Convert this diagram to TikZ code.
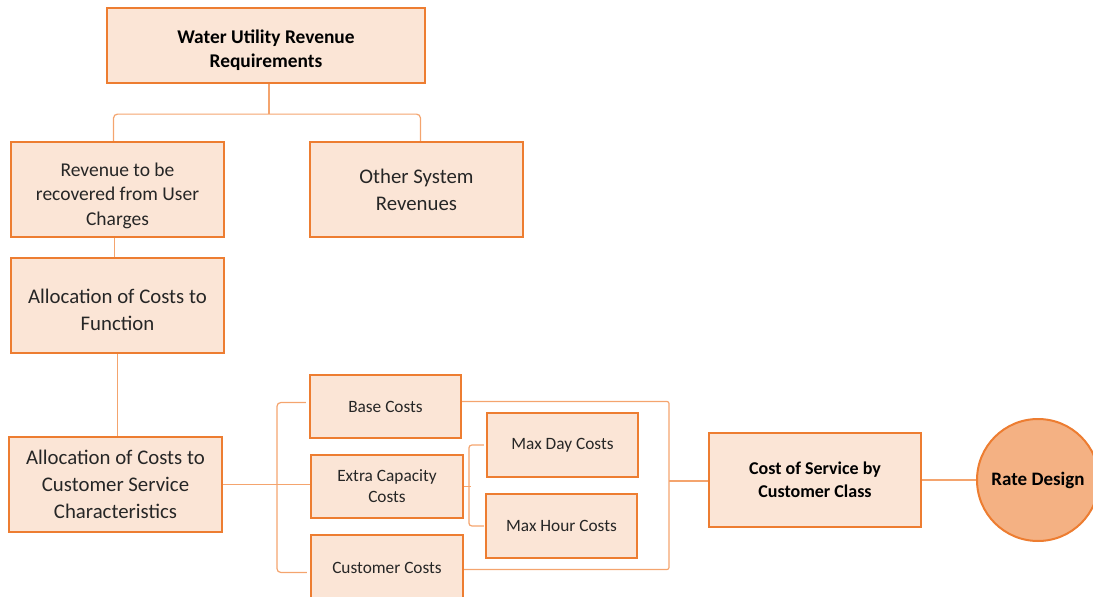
\documentclass[tikz,border=0pt]{standalone}
\usepackage{fontspec}
\setmainfont{Carlito}
\usepackage{tikz}
\definecolor{boxline}{HTML}{ED7D31}
\definecolor{boxfill}{HTML}{FBE5D6}
\definecolor{linkline}{HTML}{F4A46E}
\definecolor{ratefill}{HTML}{F4B183}
\definecolor{txt}{HTML}{262626}
\newcommand{\drop}[1]{\rule{0pt}{#1}}

\begin{document}
\begin{tikzpicture}
    [
        x=1pt, y=-1pt,
        box/.style={rectangle, draw=boxline, line width=2.2pt, fill=boxfill, align=center, inner sep=0pt, text=txt, minimum width=213pt, minimum height=95pt, font=\fontsize{20.8}{27}\selectfont},
        smallbox/.style={box, minimum width=151pt, minimum height=63pt, font=\fontsize{17.3}{21}\selectfont},
        boldbox/.style={box, text=black, font=\fontsize{18}{23}\selectfont\bfseries},
        link/.style={draw=linkline, line width=1.2pt},
    ]

\useasboundingbox (0,0) rectangle (1093,597);
\clip (0,0) rectangle (1093,597);

% revenue side
\node[boldbox, minimum width=318pt, minimum height=75pt, font=\fontsize{19.4}{24}\selectfont\bfseries] (top) at (266,45.5) {\drop{24pt}Water Utility Revenue\\Requirements};
\node[box, font=\fontsize{19.5}{24.5}\selectfont] (rev) at (117.5,189.5) {\drop{25.5pt}Revenue to be\\recovered from User\\Charges};
\node[box] (other) at (416.5,189.5) {Other System\\Revenues};
\node[box] (allocF) at (117.5,305.5) {\drop{22.5pt}Allocation of Costs to\\Function};
\node[box] (allocC) at (115.5,484.5) {Allocation of Costs to\\Customer Service\\Characteristics};

% cost components
\node[smallbox] (base) at (385.5,406.5) {Base Costs};
\node[smallbox, minimum width=152pt] (extra) at (387,486.5) {Extra Capacity\\Costs};
\node[smallbox, minimum width=152pt, minimum height=65pt] (cust) at (387,567.5) {Customer Costs};
\node[smallbox, minimum height=64pt] (maxday) at (562.5,445) {Max Day Costs};
\node[smallbox, minimum height=64pt] (maxhour) at (561.5,526) {Max Hour Costs};

\node[boldbox, minimum width=212pt, minimum height=94pt] (cos) at (815,480) {Cost of Service by\\Customer Class};
\node[circle, draw=boxline, line width=2pt, fill=ratefill, minimum size=122pt, inner sep=0pt, font=\fontsize{19}{23}\selectfont\bfseries] (rate) at (1038,480) {Rate Design};

\coordinate (rj) at (669,481);

% connectors
\draw[link] ([xshift=3pt]top.south) -- ++(0,30) coordinate (tj);
\draw[link, rounded corners=4pt] ([xshift=-4pt]rev.north) |- (tj) -| ([xshift=4pt]other.north);
\draw[link] ([xshift=-3pt]rev.south) -- ([xshift=-3pt]allocF.north);
\draw[link] (allocF.south) -- (allocF.south |- allocC.north);
\draw[link] (allocC.east) -- (allocC.east -| extra.west);
\draw[link, rounded corners=4pt] ([xshift=-3pt, yshift=4pt]base.west) -- ++(-29,0) |- ([xshift=-3pt, yshift=-5pt]cust.west);
\draw[link] (extra.east) -- ++(7,0);
\draw[link, rounded corners=3pt] ([xshift=-2pt]maxday.west) -- ++(-15,0) |- ([xshift=-1pt]maxhour.west);
\draw[link, rounded corners=2pt] ([yshift=5pt]base.east) -| (rj) |- ([yshift=-2pt]cust.east);
\draw[link] (rj) -- (rj -| cos.west);
\draw[link] (cos) -- (rate);
\end{tikzpicture}
\end{document}
